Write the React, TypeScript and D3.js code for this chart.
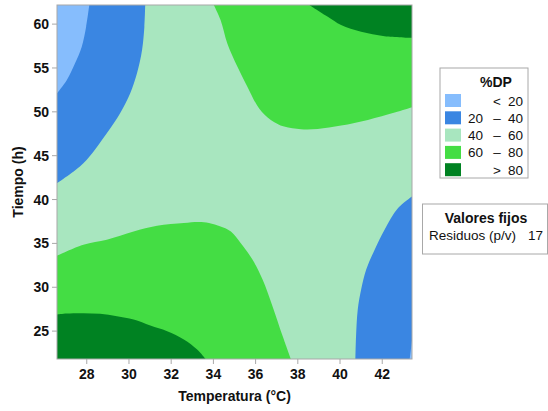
import React from 'react';
import * as d3 from 'd3';

// axis ranges (central composite design, alpha = 1.682)
const tempDomain = [26.59, 43.41];
const timeDomain = [21.82, 62.18];
const tempTicks = [28, 30, 32, 34, 36, 38, 40, 42];
const timeTicks = [25, 30, 35, 40, 45, 50, 55, 60];

// legend
const levelLabels = [
  ['', '<', '20'],
  ['20', '–', '40'],
  ['40', '–', '60'],
  ['60', '–', '80'],
  ['', '>', '80'],
];
const levelColors = ['#86bdfd', '#3a86e2', '#a8e6bf', '#44dd44', '#008222'];

// contour boundaries, [temperature, time]
const blueTopLeft = [[26.59, 41.88], [27.84, 44.15], [28.95, 47.57], [29.58, 49.84], [30.06, 52.12], [30.38, 54.39], [30.62, 57.04], [30.73, 59.69], [30.77, 62.18]];
const lightTopLeft = [[26.59, 52.1], [27.05, 53.6], [27.44, 55.5], [27.76, 57.4], [27.97, 59.7], [28.12, 62.18]];
const greenTopRight = [[34.02, 62.18], [34.34, 60.46], [34.66, 57.8], [35.14, 55.14], [35.61, 52.87], [36.16, 50.41], [36.72, 49.08], [37.35, 48.32], [38.15, 48.02], [38.94, 48.05], [40.05, 48.43], [41.32, 49.08], [42.59, 49.91], [43.41, 50.52]];
const darkTopRight = [[38.54, 62.18], [39.42, 60.83], [40.05, 59.89], [41.0, 59.12], [42.11, 58.63], [43.41, 58.44]];
const greenBottomLeft = [[26.59, 33.6], [27.84, 34.86], [28.95, 35.43], [30.22, 36.37], [31.33, 37.02], [32.6, 37.33], [33.31, 37.44], [33.79, 37.33], [34.34, 36.94], [34.83, 36.37], [35.29, 35.05], [35.85, 33.15], [36.33, 30.88], [36.8, 27.84], [37.28, 24.43], [37.67, 21.82]];
const darkBottomLeft = [[26.59, 26.89], [27.05, 27.0], [27.84, 27.04], [28.63, 26.97], [29.43, 26.7], [30.22, 26.33], [31.01, 25.64], [31.81, 24.99], [32.6, 24.05], [33.23, 22.91], [33.63, 21.82]];
const blueBottomRight = [[43.41, 40.35], [42.75, 39.03], [42.11, 36.56], [41.64, 34.29], [41.24, 32.01], [41.0, 29.74], [40.84, 27.46], [40.76, 24.43], [40.73, 21.82]];
const lightBottomRight = [[43.3, 21.82], [43.41, 23.9]];

const W = 548;
const H = 411;
const margin = { left: 57, right: 136, top: 5, bottom: 52 };
const font = '"Liberation Sans", Arial, sans-serif';

export default function App() {
  const x = d3.scaleLinear().domain(tempDomain).range([margin.left, W - margin.right]);
  const y = d3.scaleLinear().domain(timeDomain).range([H - margin.bottom, margin.top]);
  const [x0, x1] = x.range();
  const [y0, y1] = y.range();

  const line = d3
    .line<number[]>()
    .x(d => x(d[0]))
    .y(d => y(d[1]))
    .curve(d3.curveCatmullRom);

  // boundary curve closed through a corner of the plot
  const region = (pts: number[][], corner: number[]) =>
    `${line(pts)}L${x(corner[0])},${y(corner[1])}Z`;

  const regions = [
    { d: region(blueTopLeft, [tempDomain[0], timeDomain[1]]), c: levelColors[1] },
    { d: region(lightTopLeft, [tempDomain[0], timeDomain[1]]), c: levelColors[0] },
    { d: region(greenTopRight, [tempDomain[1], timeDomain[1]]), c: levelColors[3] },
    { d: region(darkTopRight, [tempDomain[1], timeDomain[1]]), c: levelColors[4] },
    { d: region(greenBottomLeft, [tempDomain[0], timeDomain[0]]), c: levelColors[3] },
    { d: region(darkBottomLeft, [tempDomain[0], timeDomain[0]]), c: levelColors[4] },
    { d: region(blueBottomRight, [tempDomain[1], timeDomain[0]]), c: levelColors[1] },
    { d: region(lightBottomRight, [tempDomain[1], timeDomain[0]]), c: levelColors[0] },
  ];

  const legX = 440;
  const legY = 68;
  const rowH = 17.3;

  return (
    <svg width={W} height={H} style={{ position: 'absolute', left: 0, top: 0, background: '#fff' }} fontFamily={font}>
      <defs>
        <clipPath id="plot">
          <rect x={x0} y={y1} width={x1 - x0} height={y0 - y1} />
        </clipPath>
      </defs>
      <g clipPath="url(#plot)">
        <rect x={x0} y={y1} width={x1 - x0} height={y0 - y1} fill={levelColors[2]} />
        {regions.map((r, i) => (
          <path key={i} d={r.d} fill={r.c} />
        ))}
      </g>
      <rect x={x0} y={y1} width={x1 - x0} height={y0 - y1} fill="none" stroke="#a8a8a8" />

      {/* x axis */}
      {tempTicks.map(t => (
        <g key={t} transform={`translate(${x(t)},${y0})`}>
          <line y1={0} y2={5} stroke="#a8a8a8" />
          <text y={19.5} textAnchor="middle" fontSize={14} fontWeight="bold" fill="#111">{t}</text>
        </g>
      ))}
      <text x={(x0 + x1) / 2} y={401} textAnchor="middle" fontSize={14} fontWeight="bold" fill="#111">
        Temperatura (°C)
      </text>

      {/* y axis */}
      {timeTicks.map(t => (
        <g key={t} transform={`translate(${x0},${y(t)})`}>
          <line x1={0} x2={-5} stroke="#a8a8a8" />
          <text x={-8} dy="0.36em" textAnchor="end" fontSize={14} fontWeight="bold" fill="#111">{t}</text>
        </g>
      ))}
      <text transform={`translate(23,${(y0 + y1) / 2}) rotate(-90)`} textAnchor="middle" fontSize={14} fontWeight="bold" fill="#111">
        Tiempo (h)
      </text>

      {/* legend */}
      <rect x={legX} y={legY} width={88} height={110} fill="#fff" stroke="#a8a8a8" />
      <text x={496} y={87} textAnchor="middle" fontSize={14} fontWeight="bold" fill="#111">%DP</text>
      {levelLabels.map((lab, i) => (
        <g key={i} transform={`translate(0,${94 + i * rowH})`}>
          <rect x={445} y={0} width={16} height={13} fill={levelColors[i]} />
          <text x={483} y={11.5} textAnchor="end" fontSize={13.5} fill="#111">{lab[0]}</text>
          <text x={497} y={11.5} textAnchor="middle" fontSize={13.5} fill="#111">{lab[1]}</text>
          <text x={523} y={11.5} textAnchor="end" fontSize={13.5} fill="#111">{lab[2]}</text>
        </g>
      ))}

      {/* fixed values */}
      <rect x={422.5} y={204} width={125} height={50} fill="#fff" stroke="#a8a8a8" />
      <text x={486} y={222.5} textAnchor="middle" fontSize={14} fontWeight="bold" fill="#111">Valores fijos</text>
      <text x={429} y={239.5} fontSize={13.5} fill="#111">Residuos (p/v)</text>
      <text x={543} y={239.5} textAnchor="end" fontSize={13.5} fill="#111">17</text>
    </svg>
  );
}
